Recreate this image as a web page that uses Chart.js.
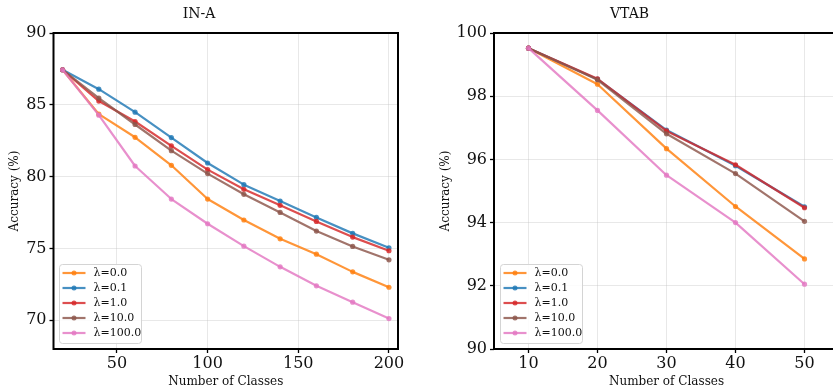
<!DOCTYPE html>
<html><head><meta charset="utf-8">
<script src="https://cdn.jsdelivr.net/npm/chart.js@4.4.1/dist/chart.umd.min.js"></script>
<style>
html,body{margin:0;padding:0;overflow:hidden;background:#fff;width:833px;height:391px;}
#w1{position:absolute;left:0;top:0;width:420px;height:391px;}
#w2{position:absolute;left:420px;top:0;width:440px;height:391px;}
</style></head><body>
<div id="w1"><canvas id="c1"></canvas></div>
<div id="w2"><canvas id="c2"></canvas></div>
<script>
const seriesLabels = ['λ=0.0', 'λ=0.1', 'λ=1.0', 'λ=10.0', 'λ=100.0'];
const seriesColors = ['rgba(255,127,14,0.82)', 'rgba(31,119,180,0.82)', 'rgba(214,39,40,0.82)', 'rgba(140,86,75,0.82)', 'rgba(227,119,194,0.82)'];
const xAxisLabel = 'Number of Classes';
const yAxisLabel = 'Accuracy (%)';

const inaTitle = 'IN-A';
const inaClasses = [20, 40, 60, 80, 100, 120, 140, 160, 180, 200];
const inaLambda0 = [87.44, 84.35, 82.74, 80.79, 78.44, 76.98, 75.67, 74.60, 73.37, 72.30];
const inaLambda01 = [87.44, 86.09, 84.49, 82.72, 80.95, 79.44, 78.30, 77.16, 76.05, 75.05];
const inaLambda1 = [87.44, 85.26, 83.84, 82.14, 80.49, 79.12, 78.00, 76.88, 75.79, 74.84];
const inaLambda10 = [87.44, 85.47, 83.63, 81.81, 80.21, 78.77, 77.51, 76.21, 75.14, 74.21];
const inaLambda100 = [87.44, 84.28, 80.74, 78.44, 76.72, 75.16, 73.72, 72.40, 71.26, 70.12];
const inaXTicks = [50, 100, 150, 200];
const inaYTicks = [70, 75, 80, 85, 90];

const vtabTitle = 'VTAB';
const vtabClasses = [10, 20, 30, 40, 50];
const vtabLambda0 = [99.52, 98.38, 96.34, 94.51, 92.85];
const vtabLambda01 = [99.52, 98.54, 96.93, 95.80, 94.50];
const vtabLambda1 = [99.52, 98.55, 96.90, 95.83, 94.47];
const vtabLambda10 = [99.52, 98.52, 96.81, 95.55, 94.04];
const vtabLambda100 = [99.52, 97.55, 95.50, 94.00, 92.05];
const vtabXTicks = [10, 20, 30, 40, 50];
const vtabYTicks = [90, 92, 94, 96, 98, 100];

const FONT = "'DejaVu Serif', 'Liberation Serif', serif";

const spines = {
  id: 'spines',
  afterDatasetsDraw(chart) {
    const a = chart.chartArea, ctx = chart.ctx;
    ctx.save();
    ctx.strokeStyle = '#000';
    ctx.lineWidth = 2;
    ctx.strokeRect(a.left, a.top, a.right - a.left, a.bottom - a.top);
    ctx.restore();
  }
};

const boxLegend = {
  id: 'boxLegend',
  afterDraw(chart) {
    const ctx = chart.ctx, a = chart.chartArea;
    const ds = chart.data.datasets;
    const rowH = 15, w = 82, h = 79;
    const x0 = Math.round(a.left + 5.5) + 0.5, y0 = Math.round(a.bottom - 6 - h) + 0.5;
    ctx.save();
    ctx.beginPath();
    ctx.roundRect(x0, y0, w, h, 3);
    ctx.fillStyle = 'rgba(255,255,255,0.85)';
    ctx.fill();
    ctx.strokeStyle = '#d4d4d4';
    ctx.lineWidth = 1;
    ctx.stroke();
    ds.forEach((d, i) => {
      const y = y0 + 8.5 + i * rowH;
      ctx.strokeStyle = d.borderColor;
      ctx.lineWidth = 2.2;
      ctx.beginPath();
      ctx.moveTo(x0 + 3, y);
      ctx.lineTo(x0 + 26, y);
      ctx.stroke();
      ctx.fillStyle = d.borderColor;
      ctx.beginPath();
      ctx.arc(x0 + 14.5, y, 2.5, 0, Math.PI * 2);
      ctx.fill();
      ctx.fillStyle = '#111';
      ctx.font = '11px ' + FONT;
      ctx.textBaseline = 'middle';
      ctx.textAlign = 'left';
      ctx.fillText(d.label, x0 + 34, y + 0.5);
    });
    ctx.restore();
  }
};

function makeDatasets(xs, series) {
  return series.map((vals, i) => ({
    label: seriesLabels[i],
    data: xs.map((x, j) => ({ x: x, y: vals[j] })),
    borderColor: seriesColors[i],
    backgroundColor: seriesColors[i],
    borderWidth: 2.2,
    pointRadius: 2.6,
    pointBorderWidth: 0,
    pointHoverRadius: 2.6,
    borderJoinStyle: 'round',
    tension: 0,
    order: -i
  }));
}

function gridOpts() {
  return {
    color: 'rgba(190,190,190,0.45)',
    lineWidth: 0.8,
    borderDash: [3, 2],
    drawTicks: true,
    tickLength: 4,
    tickColor: '#000',
    tickWidth: 1.3,
    tickBorderDash: []
  };
}

function makeChart(id, cfg) {
  return new Chart(document.getElementById(id), {
    type: 'line',
    data: { datasets: makeDatasets(cfg.xs, cfg.series) },
    options: {
      responsive: true,
      maintainAspectRatio: false,
      animation: false,
      events: [],
      layout: { padding: { left: 0, right: cfg.padRight, top: 0, bottom: 0 } },
      plugins: {
        legend: { display: false },
        tooltip: { enabled: false },
        title: {
          display: true,
          text: cfg.title,
          color: '#111',
          font: { family: FONT, size: 14, weight: 'normal', lineHeight: 1.2 },
          padding: { top: 5.8, bottom: 10.4 }
        }
      },
      scales: {
        x: {
          type: 'linear',
          min: cfg.xMin, max: cfg.xMax,
          afterBuildTicks: s => { s.ticks = cfg.xTicks.map(v => ({ value: v })); },
          afterFit: s => { s.height = 42; },
          border: { display: false },
          grid: gridOpts(),
          ticks: { color: '#111', padding: 1, maxRotation: 0, autoSkip: false, font: { family: FONT, size: 16 } },
          title: { display: true, text: xAxisLabel, color: '#111', font: { family: FONT, size: 12 }, padding: { top: 0, bottom: 2 } }
        },
        y: {
          type: 'linear',
          min: cfg.yMin, max: cfg.yMax,
          afterBuildTicks: s => { s.ticks = cfg.yTicks.map(v => ({ value: v })); },
          afterFit: s => { s.width = cfg.yWidth; },
          border: { display: false },
          grid: gridOpts(),
          ticks: { color: '#111', padding: 3, autoSkip: false, font: { family: FONT, size: 16 } },
          title: { display: true, text: yAxisLabel, color: '#111', font: { family: FONT, size: 12 }, padding: { top: cfg.yTitlePad, bottom: 0 } }
        }
      }
    },
    plugins: [spines, boxLegend]
  });
}

makeChart('c1', {
  title: inaTitle, xs: inaClasses,
  series: [inaLambda0, inaLambda01, inaLambda1, inaLambda10, inaLambda100],
  xTicks: inaXTicks, yTicks: inaYTicks,
  xMin: 15, xMax: 205, yMin: 68, yMax: 90,
  yWidth: 53.5, yTitlePad: 8, padRight: 22
});
makeChart('c2', {
  title: vtabTitle, xs: vtabClasses,
  series: [vtabLambda0, vtabLambda01, vtabLambda1, vtabLambda10, vtabLambda100],
  xTicks: vtabXTicks, yTicks: vtabYTicks,
  xMin: 5, xMax: 55, yMin: 90, yMax: 100,
  yWidth: 74, yTitlePad: 19, padRight: 21
});
</script>
</body></html>
